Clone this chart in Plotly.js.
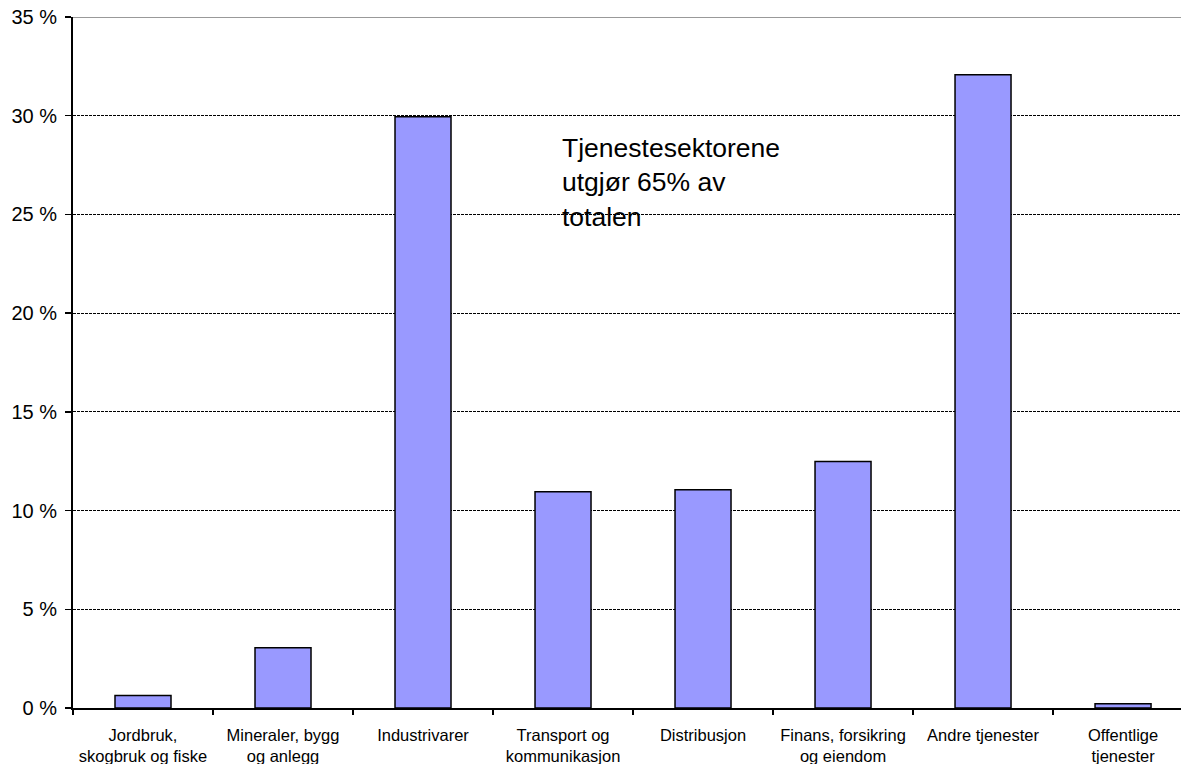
<!DOCTYPE html>
<html>
<head>
<meta charset="utf-8">
<script src="https://cdn.plot.ly/plotly-3.0.1.min.js"></script>
<style>html,body{margin:0;padding:0;background:#fff;}#chart{width:1181px;height:764px;}</style>
</head>
<body>
<div id="chart"></div>
<script>
const categories = [
  "Jordbruk,<br>skogbruk og fiske",
  "Mineraler, bygg<br>og anlegg",
  "Industrivarer",
  "Transport og<br>kommunikasjon",
  "Distribusjon",
  "Finans, forsikring<br>og eiendom",
  "Andre tjenester",
  "Offentlige<br>tjenester"
];
const shares = [0.63, 3.05, 29.95, 10.95, 11.05, 12.48, 32.07, 0.22];
const yTickVals = [0, 5, 10, 15, 20, 25, 30, 35];
const yTickText = ["0 %", "5 %", "10 %", "15 %", "20 %", "25 %", "30 %", "35 %"];
const noteText = "Tjenestesektorene<br>utgjør 65% av<br>totalen";

const trace = {
  type: "bar",
  x: categories,
  y: shares,
  width: 0.4,
  marker: {color: "#9999FF", line: {color: "#000000", width: 1.5}},
  hoverinfo: "skip"
};

const layout = {
  width: 1181, height: 764,
  margin: {l: 73, r: 0, t: 17, b: 56, pad: 0},
  paper_bgcolor: "#ffffff", plot_bgcolor: "#ffffff",
  font: {family: "Liberation Sans, Arial, sans-serif", color: "#000000"},
  showlegend: false,
  xaxis: {
    type: "category",
    range: [-0.5, 7.414],
    tickson: "boundaries",
    ticks: "outside", ticklen: 5, tickwidth: 1.5, tickcolor: "#000",
    showline: true, linecolor: "#000", linewidth: 2,
    showgrid: false, zeroline: false,
    tickangle: 0,
    tickfont: {size: 16.5, color: "#000"},
    ticklabelstandoff: 11
  },
  yaxis: {
    range: [0, 35],
    tickvals: yTickVals, ticktext: yTickText,
    ticks: "outside", ticklen: 6, tickwidth: 1.5, tickcolor: "#000",
    showline: true, linecolor: "#000", linewidth: 2,
    showgrid: true, gridcolor: "#000", gridwidth: 1, griddash: "3px,1px",
    zeroline: false,
    tickfont: {size: 20, color: "#000"},
    ticklabelstandoff: 4
  },
  shapes: [{
    type: "line", xref: "paper", yref: "y", x0: 0, x1: 1, y0: 35, y1: 35,
    line: {color: "#999999", width: 2}
  }],
  annotations: [{
    xref: "paper", yref: "paper", x: 0.4395, y: 0.835,
    xanchor: "left", yanchor: "top", align: "left", showarrow: false,
    text: noteText,
    font: {size: 26.5, color: "#000"}
  }]
};

Plotly.newPlot("chart", [trace], layout, {displayModeBar: false, staticPlot: true});
</script>
</body>
</html>
